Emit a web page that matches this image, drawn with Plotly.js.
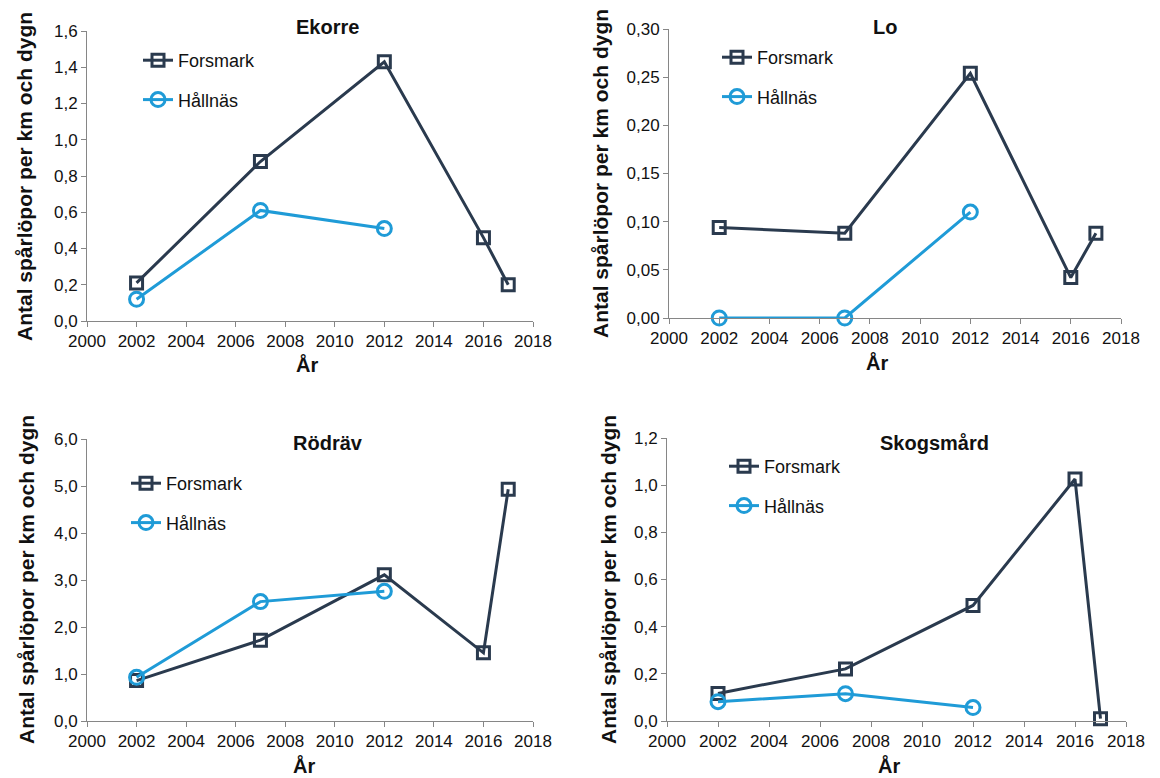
<!DOCTYPE html>
<html>
<head>
<meta charset="utf-8">
<script src="https://cdn.plot.ly/plotly-3.0.1.min.js"></script>
<style>html,body{margin:0;padding:0;background:#fff;}#chart{width:1160px;height:778px;}</style>
</head>
<body>
<div id="chart"></div>
<script>
// ---- data ----
const yearsForsmark = [2002, 2007, 2012, 2016, 2017];
const yearsHallnas = [2002, 2007, 2012];

const panelTitles = ["Ekorre", "Lo", "Rödräv", "Skogsmård"];

const ekorreForsmark = [0.21, 0.88, 1.43, 0.46, 0.20];
const ekorreHallnas = [0.12, 0.61, 0.51];

const loForsmark = [0.094, 0.088, 0.254, 0.042, 0.088];
const loHallnas = [0.0, 0.0, 0.110];

const rodravForsmark = [0.86, 1.72, 3.11, 1.45, 4.93];
const rodravHallnas = [0.93, 2.54, 2.76];

const skogsmardForsmark = [0.117, 0.221, 0.49, 1.026, 0.01];
const skogsmardHallnas = [0.082, 0.116, 0.057];

const seriesNames = ["Forsmark", "Hållnäs"];
const yTitle = "Antal spårlöpor per km och dygn";
const xTitle = "År";

// ---- styling ----
const navy = "#2A3A4E";
const blue = "#1F9BD7";
const axisGray = "#868686";
const font = "Liberation Sans, Arial, sans-serif";
const txt = "#111";
const W = 1160, H = 778;

// pixel boxes [left, right, top, bottom] converted to domains
const boxes = [
  [87, 533, 31, 321],
  [669, 1121, 29, 318],
  [87, 533, 439, 721],
  [667, 1126, 438, 721]
];

const panels = [
  {f: ekorreForsmark, h: ekorreHallnas, yr: [0, 1.6], dt: 0.2, fmt: ".1f", leg: [138, 58]},
  {f: loForsmark, h: loHallnas, yr: [0, 0.30], dt: 0.05, fmt: ".2f", leg: [717, 55]},
  {f: rodravForsmark, h: rodravHallnas, yr: [0, 6], dt: 1, fmt: ".1f", leg: [126, 481]},
  {f: skogsmardForsmark, h: skogsmardHallnas, yr: [0, 1.2], dt: 0.2, fmt: ".1f", leg: [724, 464]}
];

const titlePos = [[327, 27], [885, 27], [328, 443], [934, 443]];
const xTitlePos = [[307, 365], [877, 362], [304, 765], [889, 765]];
const yTitlePos = [[25, 177], [600, 174], [26, 580], [608, 580]];

const traces = [];
const layout = {
  width: W, height: H,
  margin: {l: 0, r: 0, t: 0, b: 0},
  paper_bgcolor: "#fff", plot_bgcolor: "#fff",
  separators: ", ",
  showlegend: true,
  font: {family: font, size: 17, color: txt},
  annotations: []
};

panels.forEach((p, i) => {
  const n = i + 1;
  const b = boxes[i];
  const xa = n === 1 ? "x" : "x" + n;
  const ya = n === 1 ? "y" : "y" + n;
  const legName = n === 1 ? "legend" : "legend" + n;
  traces.push({
    x: yearsForsmark, y: p.f, xaxis: xa, yaxis: ya, name: seriesNames[0],
    type: "scatter", mode: "lines+markers", cliponaxis: false,
    legend: legName, legendgroup: "f" + n,
    line: {color: navy, width: 3},
    marker: {symbol: "square-open", size: 12, color: navy, line: {width: 3, color: navy}}
  });
  traces.push({
    x: yearsHallnas, y: p.h, xaxis: xa, yaxis: ya, name: seriesNames[1],
    type: "scatter", mode: "lines+markers", cliponaxis: false,
    legend: legName, legendgroup: "h" + n,
    line: {color: blue, width: 3},
    marker: {symbol: "circle-open", size: 14, color: blue, line: {width: 3, color: blue}}
  });
  const xk = n === 1 ? "xaxis" : "xaxis" + n;
  const yk = n === 1 ? "yaxis" : "yaxis" + n;
  layout[xk] = {
    domain: [b[0] / W, b[1] / W], anchor: ya, range: [2000, 2018], dtick: 2, tick0: 2000,
    showgrid: false, zeroline: false, showline: true, linecolor: axisGray, linewidth: 1,
    ticks: "outside", ticklen: 5, tickcolor: axisGray,
    tickfont: {family: font, size: 17, color: txt}, fixedrange: true
  };
  layout[yk] = {
    domain: [1 - b[3] / H, 1 - b[2] / H], anchor: xa, range: p.yr, dtick: p.dt, tick0: 0, tickformat: p.fmt,
    showgrid: false, zeroline: false, showline: true, linecolor: axisGray, linewidth: 1,
    ticks: "outside", ticklen: 5, tickcolor: axisGray,
    tickfont: {family: font, size: 17, color: txt}, fixedrange: true
  };
  layout[legName] = {
    x: p.leg[0] / W, y: 1 - (p.leg[1] - 16) / H, xanchor: "left", yanchor: "top",
    bgcolor: "rgba(0,0,0,0)", borderwidth: 0,
    traceorder: "grouped", tracegroupgap: 13, itemwidth: 30,
    font: {family: font, size: 18, color: txt}
  };
  layout.annotations.push({
    text: "<b>" + panelTitles[i] + "</b>", xref: "paper", yref: "paper",
    x: titlePos[i][0] / W, y: 1 - titlePos[i][1] / H, showarrow: false,
    xanchor: "center", yanchor: "middle", font: {family: font, size: 20, color: txt}
  });
  layout.annotations.push({
    text: "<b>" + xTitle + "</b>", xref: "paper", yref: "paper",
    x: xTitlePos[i][0] / W, y: 1 - xTitlePos[i][1] / H, showarrow: false,
    xanchor: "center", yanchor: "middle", font: {family: font, size: 20, color: txt}
  });
  layout.annotations.push({
    text: "<b>" + yTitle + "</b>", xref: "paper", yref: "paper", textangle: -90,
    x: yTitlePos[i][0] / W, y: 1 - yTitlePos[i][1] / H, showarrow: false,
    xanchor: "center", yanchor: "middle", font: {family: font, size: 21, color: txt}
  });
});

Plotly.newPlot("chart", traces, layout, {displayModeBar: false, staticPlot: true});
</script>
</body>
</html>
